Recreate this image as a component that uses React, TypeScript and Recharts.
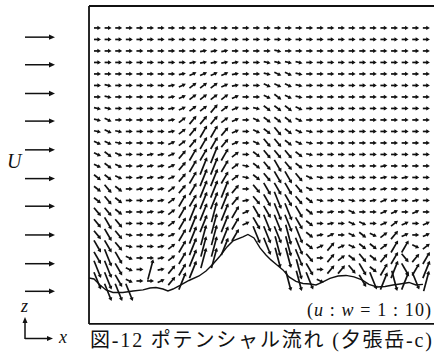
import React from "react";
import { ComposedChart, ReferenceLine, Scatter, XAxis, YAxis } from "recharts";

// arrow direction per grid point, one string per row (top -> bottom),
// groups of columns separated by spaces just for reading. "." = below ground
const fieldRows = [
  "0000000 0000000 00 0000 000000000000",
  "0000000 0000000 00 0000 000000000000",
  "0000000 0001110 00 0a00 000000000000",
  "0000000 0011111 00 aaaa 000000000000",
  "0000000 0122221 00 abba 000000000000",
  "0a00000 1233321 00 bbba 000000000000",
  "0a00000 1233332 00 bcba 000000000000",
  "aa00000 1233432 0a cccb 000000000000",
  "ab00000 1344432 0b cccb 000000000000",
  "aba0000 1345542 0b cdcb a00000000000",
  "bba0000 2345542 0b ddcb a00000000000",
  "bcb0011 2455653 0c dddc a00000000000",
  "bcb0111 2456653 ac dedc a00000010000",
  "ccb0111 2456653 ac deed ba0000010100",
  "cdc0111 3456664 0d eeed ba0a00110100",
  "cdc0011 3556664 1d efed ca0aa0121010",
  "ddc0011 3566765 2e effe c010b0022020",
  "ded0001 3566765 2e fffe c010bb023202",
  "deda001 2567765 .f ffgf c120bcb34202",
  "eeda001 356776. .. fggf c242bcc355b3",
  "efeb001 35677.. .. .ggf d043cdc45d45",
  "ffeb071 456.... .. ...g e044dec56e56",
  "ffeb002 46..... .. ..gg fb...ef6g6f7",
  ".fff... ....... .. .... ............",
];

// degrees, + = upward
const angleByCode: Record<string, number> = {
  "0": 0, "1": 12, "2": 25, "3": 38, "4": 50, "5": 60, "6": 68, "7": 75,
  a: -12, b: -25, c: -38, d: -50, e: -60, f: -68, g: -75,
};

// ground profile (x in grid columns, z in grid rows above the lowest row)
const terrainX = [
  -0.8, -0.33, 0.24, 0.8, 1.46, 2.4, 3.35, 4.29, 4.95, 5.51, 6.17, 6.64, 7.12,
  7.78, 8.62, 9.57, 10.23, 10.89, 11.55, 12.21, 12.77, 13.71, 14.18, 14.75,
  15.32, 15.88, 16.35, 16.92, 17.48, 18.05, 18.71, 19.37, 20.03, 20.6, 21.16,
  21.91, 22.67, 23.42, 24.18, 24.93, 25.59, 26.34, 27.1, 27.85, 28.51, 29.36,
  30.02, 30.68,
];
const terrainZ = [
  1.26, 1.17, 0.65, 0.22, 0.0, 0.0, 0.13, 0.22, 0.39, 0.43, 0.3, 0.13, 0.3,
  0.61, 1.04, 1.43, 1.87, 2.48, 3.17, 3.96, 4.48, 4.83, 5.04, 4.74, 3.87, 3.26,
  2.83, 2.39, 1.96, 1.35, 0.96, 0.78, 0.74, 0.65, 0.87, 1.22, 1.43, 1.48, 1.35,
  1.09, 0.7, 0.48, 0.52, 0.65, 0.74, 0.87, 0.65, 0.7,
];

// uniform inflow arrows "U" left of the frame
const inflowX = -5.42;
const inflowZ = [22.2, 19.8, 17.3, 14.9, 12.4, 9.9, 7.5, 5.0, 2.5, 0.1];

// frame of the plot, in the same units
const frameLeft = -0.8;
const frameRight = 31.72;
const frameTop = 24.91;
const frameBottom = -2.74;

const INK = "#111";
const W = 434;
const H = 361;

const cleanRows = fieldRows.map((r) => r.replace(/ /g, ""));
const fieldData: { x: number; z: number; a: number }[] = [];
cleanRows.forEach((row, r) => {
  row.split("").forEach((code, c) => {
    if (code === ".") return;
    fieldData.push({ x: c, z: cleanRows.length - 1 - r, a: angleByCode[code] });
  });
});
const terrainData = terrainX.map((x, i) => ({ x, z: terrainZ[i] }));
const inflowData = inflowZ.map((z) => ({ x: inflowX, z }));

function headPoints(x2: number, y2: number, ux: number, uy: number, hl: number, hw: number) {
  const bx = x2 - ux * hl;
  const by = y2 - uy * hl;
  return `${x2},${y2} ${bx - uy * hw},${by + ux * hw} ${bx + uy * hw},${by - ux * hw}`;
}

function FieldArrow(props: any) {
  const { cx, cy, payload } = props;
  if (cx == null || cy == null) return <g />;
  const t = (payload.a * Math.PI) / 180;
  const len = Math.min(7 / Math.cos(t), 21);
  const ux = Math.cos(t);
  const uy = -Math.sin(t);
  const x1 = cx - (ux * len) / 2;
  const y1 = cy - (uy * len) / 2;
  const x2 = cx + (ux * len) / 2;
  const y2 = cy + (uy * len) / 2;
  return (
    <g>
      <line x1={x1} y1={y1} x2={x2 - ux * 2} y2={y2 - uy * 2} stroke={INK} strokeWidth={1.7} />
      <polygon points={headPoints(x2, y2, ux, uy, 3.6, 2.1)} fill={INK} />
    </g>
  );
}

function InflowArrow(props: any) {
  const { cx, cy } = props;
  if (cx == null || cy == null) return <g />;
  return (
    <g>
      <line x1={cx - 15} y1={cy} x2={cx + 10} y2={cy} stroke={INK} strokeWidth={1.5} />
      <polygon points={headPoints(cx + 15, cy, 1, 0, 6, 2.7)} fill={INK} />
    </g>
  );
}

export default function App() {
  const serif = '"Liberation Serif", "DejaVu Serif", serif';
  return (
    <div style={{ position: "absolute", left: 0, top: 0, width: W, height: H, background: "#fff" }}>
      <ComposedChart width={W} height={H} margin={{ top: 0, right: 0, bottom: 0, left: 0 }}>
        <XAxis type="number" dataKey="x" domain={[-9.19, 31.72]} hide allowDataOverflow />
        <YAxis type="number" dataKey="z" domain={[-5.96, 25.43]} hide allowDataOverflow />
        <ReferenceLine
          segment={[{ x: frameLeft, y: frameTop }, { x: frameRight, y: frameTop }]}
          stroke={INK}
          strokeWidth={1.8}
        />
        <ReferenceLine
          segment={[{ x: frameLeft, y: frameBottom }, { x: frameRight, y: frameBottom }]}
          stroke={INK}
          strokeWidth={1.8}
        />
        <ReferenceLine
          segment={[{ x: frameLeft, y: frameBottom }, { x: frameLeft, y: frameTop }]}
          stroke={INK}
          strokeWidth={1.8}
        />
        <Scatter
          data={terrainData}
          line={{ stroke: INK, strokeWidth: 1.4 }}
          shape={() => <g />}
          isAnimationActive={false}
        />
        <Scatter data={fieldData} shape={FieldArrow} isAnimationActive={false} />
        <Scatter data={inflowData} shape={InflowArrow} isAnimationActive={false} />
      </ComposedChart>

      <svg
        width={W}
        height={H}
        style={{ position: "absolute", left: 0, top: 0, pointerEvents: "none" }}
      >
        <text x={7} y={168} fontFamily={serif} fontStyle="italic" fontSize={20} fill={INK}>
          U
        </text>
        {/* z / x orientation mark */}
        <text x={21} y={312} fontFamily={serif} fontStyle="italic" fontSize={18} fill={INK}>
          z
        </text>
        <line x1={25} y1={339} x2={25} y2={323} stroke={INK} strokeWidth={1.5} />
        <polygon points={headPoints(25, 317, 0, -1, 6, 2.5)} fill={INK} />
        <line x1={25} y1={338.5} x2={47} y2={338.5} stroke={INK} strokeWidth={1.5} />
        <polygon points={headPoints(53, 338.5, 1, 0, 6, 2.5)} fill={INK} />
        <text x={59} y={343} fontFamily={serif} fontStyle="italic" fontSize={18} fill={INK}>
          x
        </text>
        <text
          x={307}
          y={316}
          fontFamily={serif}
          fontSize={18}
          fill={INK}
          textLength={124}
          lengthAdjust="spacing"
        >
          (<tspan fontStyle="italic">u</tspan> : <tspan fontStyle="italic">w</tspan> = 1 : 10)
        </text>
        <text
          x={90}
          y={347}
          fontFamily={'"Liberation Serif", "Noto Sans CJK JP", serif'}
          fontSize={20}
          fill={INK}
          textLength={342}
          lengthAdjust="spacing"
        >
          図-12 ポテンシャル流れ (夕張岳-c)
        </text>
      </svg>
    </div>
  );
}
